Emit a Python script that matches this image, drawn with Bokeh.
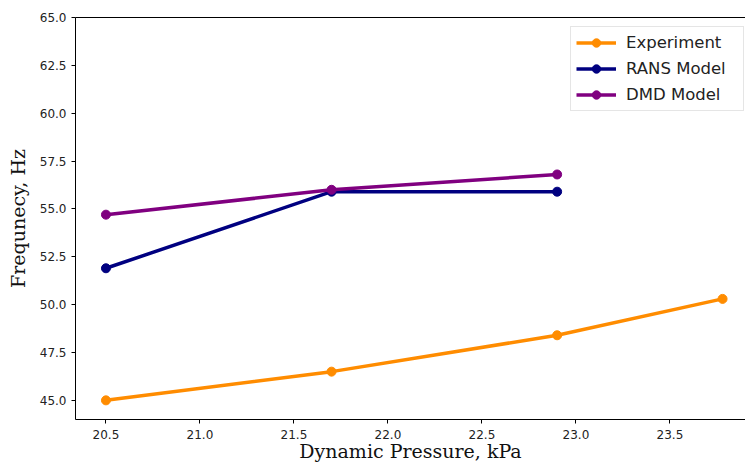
from bokeh.plotting import figure
from bokeh.models import FixedTicker, NumeralTickFormatter, Range1d, LinearAxis, Legend, LegendItem
from bokeh.embed import file_html
from bokeh.resources import INLINE

# Data
exp_x = [20.5, 21.7, 22.9, 23.78]
exp_y = [45.0, 46.5, 48.4, 50.3]
rans_x = [20.5, 21.7, 22.9]
rans_y = [51.9, 55.9, 55.9]
dmd_x = [20.5, 21.7, 22.9]
dmd_y = [54.7, 56.0, 56.8]
x_ticks = [20.5, 21.0, 21.5, 22.0, 22.5, 23.0, 23.5]
y_ticks = [45.0, 47.5, 50.0, 52.5, 55.0, 57.5, 60.0, 62.5, 65.0]

p = figure(width=745, height=464, output_backend="svg", toolbar_location=None,
           x_range=Range1d(20.338, 23.902), y_range=Range1d(44.0, 65.0),
           min_border_left=75, min_border_right=0, min_border_top=17, min_border_bottom=44)
p.outline_line_color = None
p.xgrid.visible = False
p.ygrid.visible = False
p.background_fill_color = "white"

for ax in (p.xaxis[0], p.yaxis[0]):
    ax.major_label_text_font = "DejaVu Sans"
    ax.major_label_text_font_size = "12px"
    ax.major_label_text_color = "#222222"
    ax.axis_label_text_font = "DejaVu Serif"
    ax.axis_label_text_font_size = "19px"
    ax.axis_label_text_font_style = "normal"
    ax.axis_label_text_color = "#111111"
    ax.minor_tick_line_color = None
    ax.major_tick_in = 0
    ax.major_tick_out = 4
    ax.axis_line_color = "black"
    ax.major_tick_line_color = "black"
    ax.formatter = NumeralTickFormatter(format="0.0")

p.xaxis[0].ticker = FixedTicker(ticks=x_ticks)
p.yaxis[0].ticker = FixedTicker(ticks=y_ticks)
p.xaxis[0].axis_label = "Dynamic Pressure, kPa"
p.yaxis[0].axis_label = "Frequnecy, Hz"
p.xaxis[0].major_label_standoff = 6
p.xaxis[0].axis_label_standoff = -2
p.yaxis[0].axis_label_standoff = 8

top = LinearAxis(major_tick_line_color=None, minor_tick_line_color=None,
                 major_label_text_font_size="0px", axis_line_color="black",
                 ticker=FixedTicker(ticks=[]))
p.add_layout(top, "above")

series = [("Experiment", exp_x, exp_y, "#FF8C00"),
          ("RANS Model", rans_x, rans_y, "#000080"),
          ("DMD Model", dmd_x, dmd_y, "#800080")]
items = []
for name, xs, ys, c in series:
    l = p.line(xs, ys, line_color=c, line_width=3.5)
    s = p.scatter(xs, ys, size=9, fill_color=c, line_color=c)
    items.append(LegendItem(label=name, renderers=[l, s]))

leg = Legend(items=items, location=(495, 308))
leg.label_text_font = "DejaVu Sans"
leg.label_text_font_size = "16.5px"
leg.label_text_color = "#222222"
leg.glyph_width = 40
leg.glyph_height = 21
leg.label_height = 21
leg.label_standoff = 10
leg.label_width = 112
leg.spacing = 5
leg.padding = 5
leg.margin = 0
leg.border_line_color = "#cccccc"
leg.border_line_width = 1
leg.background_fill_alpha = 0.8
p.add_layout(leg, "center")

open("out.html", "w").write(file_html(p, INLINE))
